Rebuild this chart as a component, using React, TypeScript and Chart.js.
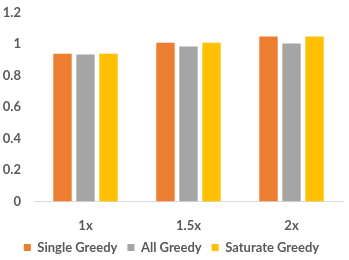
import React, { useEffect, useRef } from "react";
import { Chart, registerables } from "chart.js";

Chart.register(...registerables);

const categories = ["1x", "1.5x", "2x"];
const singleGreedy = [0.94, 1.01, 1.05];
const allGreedy = [0.935, 0.985, 1.005];
const saturateGreedy = [0.94, 1.01, 1.05];
const seriesNames = ["Single Greedy", "All Greedy", "Saturate Greedy"];
const seriesColors = ["#ED7D31", "#A5A5A5", "#FFC000"];

const legendShrink = {
  id: "legendShrink",
  beforeInit(chart: any) {
    const legend = chart.legend;
    if (!legend) return;
    const orig = legend.fit.bind(legend);
    legend.fit = function () {
      orig();
      this.height -= 4;
    };
  },
};

export default function App() {
  const ref = useRef<HTMLCanvasElement | null>(null);
  useEffect(() => {
    document.body.style.margin = "0";
    const ctx = ref.current!;
    const font = { family: "Lato", size: 13, weight: "bold" as const };
    const chart = new Chart(ctx, {
      type: "bar",
      plugins: [legendShrink],
      data: {
        labels: categories,
        datasets: [singleGreedy, allGreedy, saturateGreedy].map((d, i) => ({
          label: seriesNames[i],
          data: d,
          backgroundColor: seriesColors[i],
          borderWidth: 0,
          categoryPercentage: 0.67,
          barPercentage: 0.8,
        })),
      },
      options: {
        animation: false,
        responsive: false,
        maintainAspectRatio: false,
        layout: { padding: { top: -1, right: 6, left: 0, bottom: 0 } },
        plugins: {
          tooltip: { enabled: false },
          legend: {
            position: "bottom",
            labels: {
              boxWidth: 7,
              boxHeight: 7,
              padding: 10,
              color: "#595959",
              font,
            },
          },
        },
        scales: {
          x: {
            grid: { display: false },
            border: { display: true, color: "#D9D9D9" },
            ticks: { color: "#595959", font, padding: 9 },
            afterFit: (scale: any) => {
              scale.height = 29.5;
            },
          },
          y: {
            min: 0,
            max: 1.2,
            grid: { display: false },
            border: { display: false },
            ticks: {
              stepSize: 0.2,
              color: "#595959",
              font,
              padding: 5,
              callback: (v: any) => String(Math.round(Number(v) * 10) / 10),
            },
            afterFit: (scale: any) => {
              scale.width = 34;
            },
          },
        },
      },
    });
    return () => chart.destroy();
  }, []);
  return (
    <div style={{ width: 349, height: 260 }}>
      <canvas ref={ref} width={349} height={260} />
    </div>
  );
}
